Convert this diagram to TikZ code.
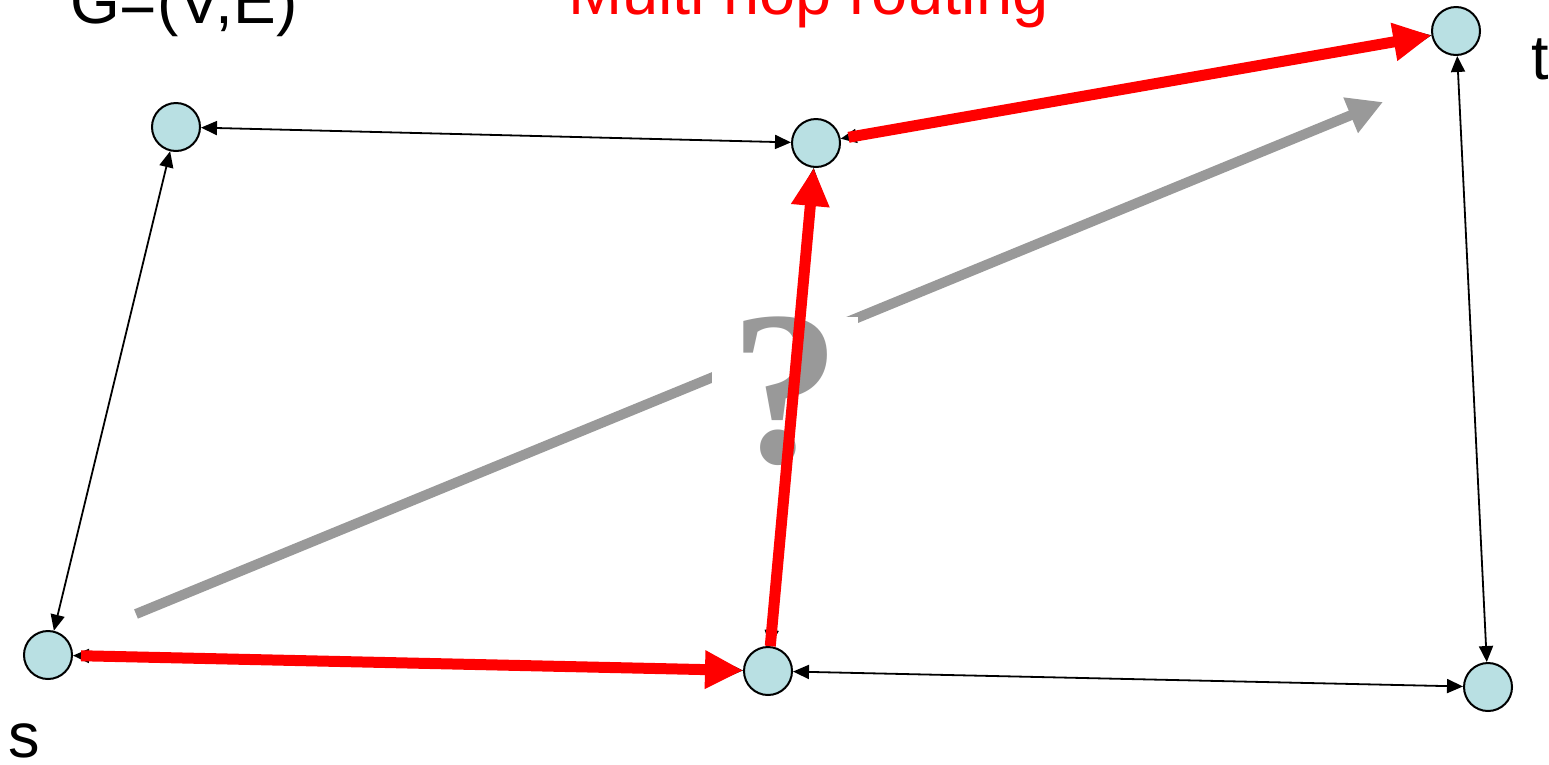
\documentclass[tikz,border=0pt]{standalone}
\usepackage{fontspec}
\setmainfont{Liberation Sans}
\newfontfamily\qfont{Liberation Serif}
\usetikzlibrary{arrows.meta}
\definecolor{nodefill}{RGB}{185,224,227}
\definecolor{qgray}{RGB}{153,153,153}
\begin{document}
\begin{tikzpicture}[x=1pt,y=-1pt,
  vertex/.style={circle,draw=black,line width=2pt,fill=nodefill,minimum size=48pt,inner sep=0pt},
  link/.style={line width=1.8pt,{Triangle[length=16pt,width=14pt]}-{Triangle[length=16pt,width=14pt]}},
  route/.style={line width=11pt,red,-{Triangle[length=38pt,width=36pt]}},
  hint/.style={line width=10pt,qgray,-{Triangle[length=35pt,width=36pt]}},
  lbl/.style={anchor=base west,inner sep=0pt,font=\fontsize{63}{63}\selectfont}]
\useasboundingbox (0,0) rectangle (1549,764);

% vertices
\node[vertex] (A) at (176,127) {};
\node[vertex] (B) at (816,143) {};
\node[vertex] (T) at (1456,31) {};
\node[vertex] (S) at (48,655) {};
\node[vertex] (C) at (768,671) {};
\node[vertex] (D) at (1488,687) {};

% labels
\node[lbl,font=\fontsize{64}{64}\selectfont] (title) at (70,23) {G=(V,E)};
\node[lbl,text=red,font=\fontsize{65}{65}\selectfont] (mh) at (568,14) {Multi hop routing};
\node[lbl] (sl) at (8,757) {s};
\node[lbl] (tl) at (1531,79) {t};

% graph edges
\draw[link] (A) -- (B);
\draw[link] (A) -- (S);
\draw[link] (S) -- (C);
\draw[link] (C) -- (B);
\draw[link] (B) -- (T);
\draw[link] (C) -- (D);
\draw[link] (T) -- (D);

% direct (unknown) route
\coordinate (g1) at (136,614);
\coordinate (g2) at (1383,102);
\draw[hint] (g1) -- (g2);
\node[fill=white,inner sep=0pt,minimum width=146pt,text=qgray,font=\qfont\bfseries\fontsize{220}{220}\selectfont] (q) at (785,391) {?};

% multi-hop route
\draw[route,shorten <=8pt] (S) -- (C);
\draw[route] (C) -- (B);
\draw[route,shorten <=8pt] (B) -- (T);
\end{tikzpicture}
\end{document}
